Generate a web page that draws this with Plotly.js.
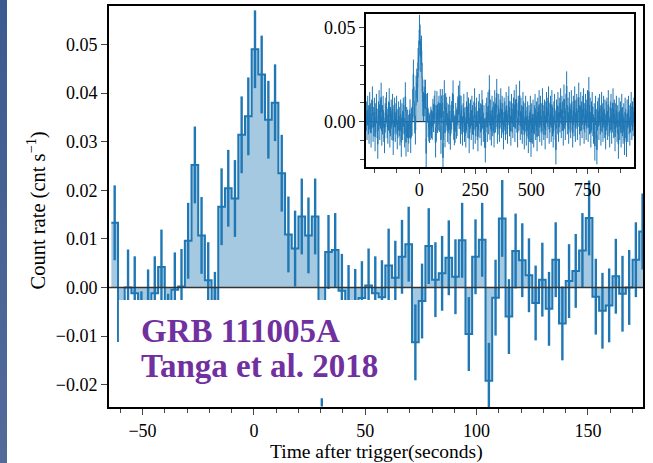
<!DOCTYPE html>
<html>
<head>
<meta charset="utf-8">
<script src="https://cdn.plot.ly/plotly-3.0.1.min.js"></script>
<style>
html,body{margin:0;padding:0;background:#fff;overflow:hidden;}
#strip{position:absolute;left:0;top:0;width:7px;height:463px;background:linear-gradient(#3b5a8f,#536b9b);z-index:5;}
#chart{position:absolute;left:0;top:0;width:653px;height:463px;}
</style>
</head>
<body>
<div id="strip"></div>
<div id="chart"></div>
<script>
// ---- data (count rates in units of 1e-3 cnt/s) ----
const BIN_WIDTH = 3.0;            // seconds
const MAIN_FIRST_CENTER = -62.5;  // centre of first bin in main panel (s)
const RATE_UNIT = 1e-3;

// main panel: bins from about -64 s to 176 s
const mainRate = [13.3,-11.0,0.0,-1.2,-8.5,-4.0,-1.2,4.2,-9.0,-0.5,
  0.2,9.6,25.2,10.7,1.5,-4.5,16.6,20.4,18.3,31.4,
  35.2,49.0,43.8,34.5,38.0,23.5,10.9,8.0,14.6,10.7,
  14.6,-16.8,7.3,7.7,-0.7,-3.0,-3.8,-2.2,0.4,-1.2,
  -2.0,4.5,2.0,6.3,8.9,-11.3,-2.8,8.5,1.6,2.9,
  6.1,2.2,9.7,-9.6,6.3,9.8,-19.2,-2.1,14.2,-6.0,
  7.5,5.6,2.5,-3.2,1.6,-4.4,5.7,-7.4,1.3,3.4,
  7.6,14.3,-1.9,-4.8,-3.7,2.3,-1.3,0.0,5.7,11.5];
const mainErr = [7.7,7.6,7.8,7.6,7.7,7.7,7.6,7.7,7.7,7.7,
  7.7,7.8,7.9,7.9,7.8,7.7,7.9,7.9,7.9,7.9,
  8.0,8.0,8.0,8.0,7.9,7.9,7.8,7.8,7.8,7.8,
  7.8,7.7,7.6,7.6,7.6,7.6,7.6,7.6,7.6,7.6,
  7.6,7.6,7.6,7.6,7.7,7.8,7.7,7.8,7.7,7.7,
  7.7,7.7,7.7,7.6,7.7,7.6,7.8,7.8,7.9,7.7,
  7.7,7.6,7.6,7.7,7.6,7.6,7.7,7.6,7.6,7.6,
  7.7,7.7,7.8,7.8,7.6,7.7,7.8,7.7,7.7,7.8];

// inset: extra bins before (-238 s ... -64 s) and after (176 s ... 958 s)
const preRate = [3,-2,6,1,-4,8,2,-6,4,11,
  -3,0,5,-8,2,7,-1,-12,3,9,
  -2,4,13,-5,1,6,-3,-9,2,5,
  8,-1,-4,3,10,-6,0,4,-2,7,
  -10,1,5,-3,2,6,-7,-1,3,0,
  -5,4,-11,2,-2,5,1,-6];
const postRate = [4,14,-4,6,1,-5,2,7,-3,0,
  -6,3,8,-1,5,-9,2,4,-2,6,
  1,-7,3,10,-4,0,5,-2,-8,3,
  7,-1,2,-5,9,4,-3,1,-6,-14,
  2,5,-3,8,1,17,-2,4,-5,6,
  0,3,-6,9,2,5,15,-4,1,7,
  -3,4,10,-1,6,2,-7,5,3,-2,
  8,1,-4,6,11,0,3,-5,7,2,
  -1,5,9,-3,4,12,2,-6,6,3,
  14,-2,5,1,-4,8,3,-7,2,6,
  -5,0,3,-9,1,-3,6,-11,2,-4,
  4,-6,1,7,-2,3,-8,5,0,9,
  -3,6,2,-5,10,1,-2,4,-7,3,
  8,-1,5,11,-4,2,6,-3,9,0,
  -6,3,7,-2,-15,4,1,8,-3,5,
  2,10,-1,6,3,-5,12,4,-2,7,
  19,1,5,-4,8,2,-1,9,3,-6,
  6,0,11,-3,4,7,-2,5,13,1,
  -5,8,3,-1,6,10,-4,2,7,-2,
  4,9,-3,16,1,5,-6,3,8,0,
  -4,2,-13,6,-1,-15,3,5,-2,7,
  1,-5,8,2,-3,6,-1,4,-7,3,
  5,-2,9,0,-6,3,7,-4,2,10,
  -1,4,-8,2,6,-3,1,-12,5,-2,
  3,-6,7,0,-4,2,-10,5,-1,-11,
  4,-3,6,1,-5,2,8,-2,3,0,
  5];
const BG_ERR = 7.8;  // typical background error bar (1e-3 cnt/s)

const xTickVals = [-50,0,50,100,150];
const insetXTickVals = [0,250,500,750];

// ---- build series ----
function binCenters(first, n){const c=[];for(let i=0;i<n;i++)c.push(first+i*BIN_WIDTH);return c;}
function toRate(a){return a.map(v=>v*RATE_UNIT);}
function stepXY(cen, vals){
  const x=[],y=[];
  cen.forEach((c,i)=>{x.push(c-BIN_WIDTH/2);y.push(vals[i]);});
  x.push(cen[cen.length-1]+BIN_WIDTH/2);y.push(vals[vals.length-1]);
  return {x,y};
}

const mainX = binCenters(MAIN_FIRST_CENTER, mainRate.length);
const mainY = toRate(mainRate), mainE = toRate(mainErr);
const mainStep = stepXY(mainX, mainY);

const insetRateAll = preRate.concat(mainRate, postRate);
const insetErrAll = preRate.map(()=>BG_ERR).concat(mainErr, postRate.map(()=>BG_ERR));
const insetX = binCenters(MAIN_FIRST_CENTER - preRate.length*BIN_WIDTH, insetRateAll.length);
const insetY = toRate(insetRateAll), insetE = toRate(insetErrAll);
const insetStep = stepXY(insetX, insetY);

const C0 = '#1f77b4', FILL = 'rgba(31,119,180,0.4)';
const FONT = 'Liberation Serif, Times New Roman, serif';

const traces = [
  {x:mainStep.x,y:mainStep.y,xaxis:'x',yaxis:'y',type:'scatter',mode:'lines',
   line:{shape:'hv',color:C0,width:2},fill:'tozeroy',fillcolor:FILL,hoverinfo:'skip'},
  {x:mainX,y:mainY,xaxis:'x',yaxis:'y',type:'scatter',mode:'markers',
   marker:{size:1,color:'rgba(0,0,0,0)'},
   error_y:{type:'data',array:mainE,visible:true,color:C0,thickness:2.4,width:0},hoverinfo:'skip'},
  {x:insetStep.x,y:insetStep.y,xaxis:'x2',yaxis:'y2',type:'scatter',mode:'lines',
   line:{shape:'hv',color:C0,width:0.8},fill:'tozeroy',fillcolor:FILL,hoverinfo:'skip'},
  {x:insetX,y:insetY,xaxis:'x2',yaxis:'y2',type:'scatter',mode:'markers',
   marker:{size:1,color:'rgba(0,0,0,0)'},
   error_y:{type:'data',array:insetE,visible:true,color:C0,thickness:1,width:0},hoverinfo:'skip'}
];

const axBase = {showline:true,mirror:true,linecolor:'black',linewidth:2,showgrid:false,zeroline:false,
  ticks:'outside',ticklen:6,tickwidth:1,tickcolor:'#444',tickfont:{family:FONT,size:18,color:'black'}};

const layout = {
  width:653,height:463,
  margin:{l:109,r:10,t:6,b:56,pad:0},
  paper_bgcolor:'white',plot_bgcolor:'white',showlegend:false,
  font:{family:FONT,size:18,color:'black'},
  xaxis:Object.assign({},axBase,{domain:[0,1],range:[-65.05,174.7],tickmode:'array',tickvals:xTickVals,
    ticktext:xTickVals.map(v=>v<0?'\u2212'+Math.abs(v):String(v)),
    minor:{dtick:10,tick0:0,ticks:'outside',ticklen:4,tickwidth:1,tickcolor:'#444',showgrid:false}}),
  yaxis:Object.assign({},axBase,{domain:[0,1],range:[-0.0246,0.0579],tickmode:'linear',tick0:0,dtick:0.01,tickformat:'.2f'}),
  xaxis2:Object.assign({},axBase,{domain:[0.4813,0.9831],anchor:'y2',range:[-238,958],tickmode:'array',
    tickvals:insetXTickVals,ticktext:insetXTickVals.map(String),ticklen:5,
    minor:{dtick:100,tick0:0,ticks:'outside',ticklen:4,tickwidth:1,tickcolor:'#444',showgrid:false}}),
  yaxis2:Object.assign({},axBase,{domain:[0.5985,0.9808],anchor:'x2',range:[-0.0242,0.0576],tickmode:'linear',
    tick0:0,dtick:0.05,tickformat:'.2f',ticklen:5,
    minor:{dtick:0.01,tick0:0,ticks:'outside',ticklen:4,tickwidth:1,tickcolor:'#444',showgrid:false}}),
  shapes:[
    {type:'line',xref:'paper',x0:0,x1:1,yref:'y',y0:0,y1:0,line:{color:'#333',width:1.5},layer:'above'},
    {type:'rect',xref:'x',yref:'y',x0:-60.6,x1:65.5,y0:-0.0228,y1:-0.0026,fillcolor:'white',line:{width:0},layer:'above'},
    {type:'line',xref:'x2',x0:-238,x1:958,yref:'y2',y0:0,y1:0,line:{color:'black',width:1},layer:'below'}
  ],
  annotations:[
    {text:'Time after trigger(seconds)',xref:'paper',yref:'paper',x:0.5,y:-0.111,xanchor:'center',yanchor:'middle',
     showarrow:false,font:{family:FONT,size:19.5,color:'black'}},
    {text:'Count rate (cnt s<sup>\u22121</sup>)',xref:'paper',yref:'paper',x:-0.136,y:0.491,xanchor:'center',yanchor:'middle',
     textangle:-90,showarrow:false,font:{family:FONT,size:20.5,color:'black'}},
    {text:'<b>GRB 111005A</b>',xref:'paper',yref:'paper',x:0.056,y:0.1895,xanchor:'left',yanchor:'middle',
     showarrow:false,font:{family:FONT,size:33,color:'#7030a0'}},
    {text:'<b>Tanga et al. 2018</b>',xref:'paper',yref:'paper',x:0.056,y:0.1022,xanchor:'left',yanchor:'middle',
     showarrow:false,font:{family:FONT,size:33,color:'#7030a0'}}
  ]
};

Plotly.newPlot('chart',traces,layout,{displayModeBar:false,staticPlot:true});
</script>
</body>
</html>
